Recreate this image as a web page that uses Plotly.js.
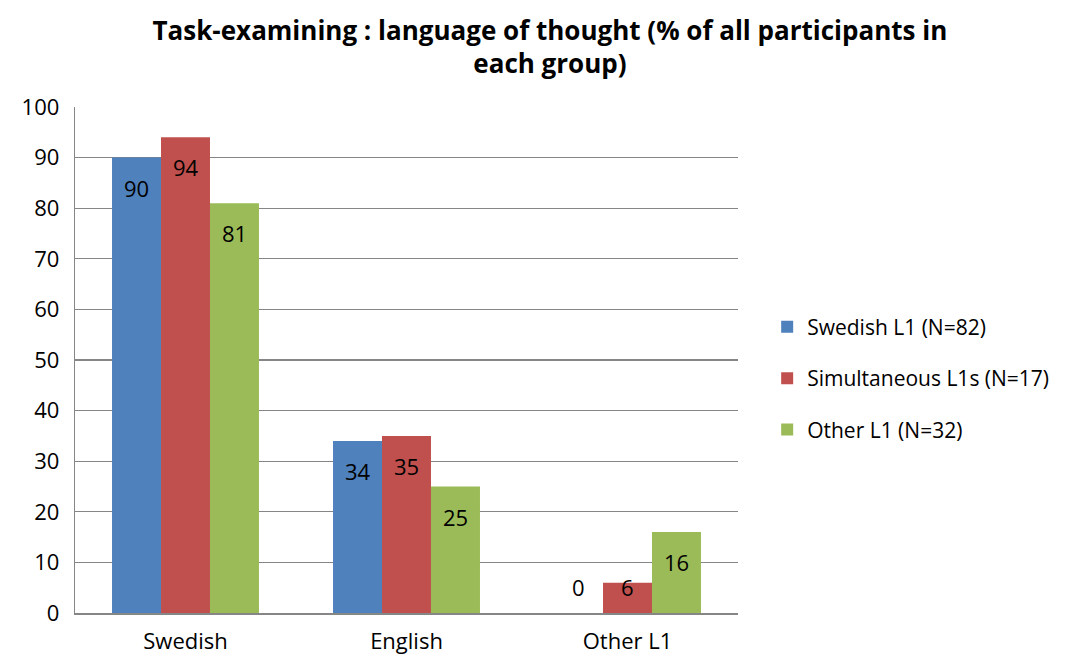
<!DOCTYPE html>
<html>
<head>
<meta charset="utf-8">
<script src="https://cdn.plot.ly/plotly-3.0.1.min.js"></script>
<style>html,body{margin:0;padding:0;background:#fff;}#chart{width:1072px;height:659px;}</style>
</head>
<body>
<div id="chart"></div>
<script>
const categories = ["Swedish", "English", "Other L1"];
const seriesNames = ["Swedish L1 (N=82)", "Simultaneous L1s (N=17)", "Other L1 (N=32)"];
const swedishL1 = [90, 34, 0];
const simultaneousL1s = [94, 35, 6];
const otherL1 = [81, 25, 16];
const yTicks = [0, 10, 20, 30, 40, 50, 60, 70, 80, 90, 100];
const titleText = "Task-examining : language of thought (% of all participants in<br>each group)";

const colors = ["#4F81BD", "#C0504D", "#9BBB59"];
const series = [swedishL1, simultaneousL1s, otherL1];
const FONT = "Open Sans, Liberation Sans, sans-serif";

const margin = {l: 75, r: 334, t: 107, b: 46};
const plotW = 1072 - margin.l - margin.r;
const plotH = 659 - margin.t - margin.b;
const yMax = 100;
const pxPerUnit = plotH / yMax;
const bargap = 0.335;
const barW = plotW / categories.length * (1 - bargap) / series.length;

const traces = series.map((vals, i) => ({
  type: "bar",
  name: seriesNames[i],
  x: categories,
  y: vals,
  marker: {color: colors[i], line: {width: 0}},
  legendgroup: "g" + i,
  hoverinfo: "skip"
}));

// Excel-like "inside end" labels: ~30px below bar top, but never below the baseline band
const annotations = [];
series.forEach((vals, i) => {
  vals.forEach((v, j) => {
    annotations.push({
      x: categories[j], y: v, xref: "x", yref: "y",
      text: String(v), showarrow: false,
      xshift: (i - 1) * barW,
      yshift: Math.max(-30, 26 - v * pxPerUnit),
      font: {family: FONT, size: 22, color: "#000"},
      xanchor: "center", yanchor: "middle"
    });
  });
});

const layout = {
  width: 1072, height: 659,
  margin: margin,
  paper_bgcolor: "#fff", plot_bgcolor: "#fff",
  font: {family: FONT, color: "#000"},
  title: {
    text: titleText,
    font: {family: FONT, size: 26, color: "#000", weight: "bold"},
    x: 0.513, xanchor: "center", xref: "container",
    y: 0.94, yanchor: "middle", yref: "container"
  },
  barmode: "group",
  bargap: bargap,
  bargroupgap: 0,
  xaxis: {
    type: "category",
    showgrid: false,
    showline: true, linecolor: "#868686", linewidth: 2,
    ticks: "",
    tickfont: {family: FONT, size: 22, color: "#000"},
    ticklabelstandoff: 8,
    fixedrange: true
  },
  yaxis: {
    range: [0, yMax],
    tickvals: yTicks,
    showgrid: true, gridcolor: "#868686", gridwidth: 1.3,
    showline: true, linecolor: "#868686", linewidth: 1.3,
    zeroline: false,
    ticks: "",
    tickfont: {family: FONT, size: 22, color: "#000"},
    ticklabelstandoff: 10,
    fixedrange: true
  },
  legend: {
    x: 1.044, xanchor: "left",
    y: 0.464, yanchor: "middle",
    traceorder: "grouped",
    tracegroupgap: 21,
    font: {family: FONT, size: 21, color: "#000"},
    itemwidth: 30,
    bgcolor: "rgba(0,0,0,0)"
  },
  annotations: annotations,
  showlegend: true
};

Plotly.newPlot("chart", traces, layout, {displayModeBar: false, staticPlot: true});
</script>
</body>
</html>
